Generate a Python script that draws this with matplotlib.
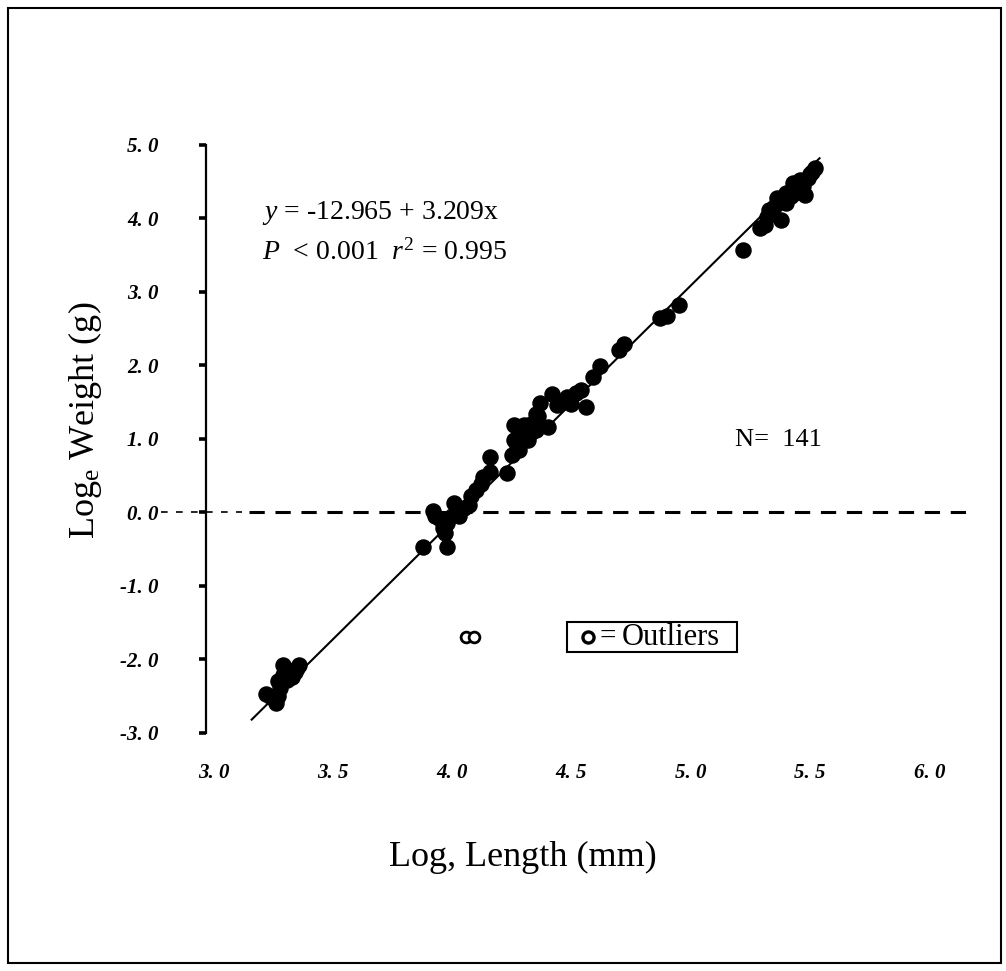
import matplotlib
matplotlib.use("Agg")
import matplotlib.pyplot as plt
from matplotlib.patches import Rectangle

plt.rcParams["mathtext.fontset"] = "custom"
plt.rcParams["mathtext.rm"] = "Liberation Serif"
plt.rcParams["mathtext.it"] = "Liberation Serif:italic"

# ln(length mm) / ln(weight g) for each fish, read in clusters along the fit
log_length = [
    3.22, 3.24, 3.26, 3.27, 3.27, 3.28, 3.29, 3.29, 3.31, 3.33, 3.34, 3.35, 3.36,
    3.88, 3.92, 3.93, 3.95, 3.96, 3.97, 3.98, 3.98, 4.00, 4.01, 4.03, 4.05,
    4.07, 4.08, 4.10, 4.12, 4.13, 4.16, 4.16, 4.23,
    4.25, 4.26, 4.26, 4.27, 4.28, 4.29, 4.30, 4.31, 4.32, 4.33, 4.35, 4.35,
    4.36, 4.37, 4.40, 4.42, 4.44, 4.46, 4.48, 4.50, 4.52, 4.54, 4.56, 4.59, 4.62,
    4.70, 4.72, 4.87, 4.90, 4.95,
    5.22,
    5.29, 5.31, 5.32, 5.33, 5.35, 5.36, 5.38, 5.39, 5.40, 5.40, 5.42, 5.43,
    5.44, 5.45, 5.46, 5.47, 5.48, 5.49, 5.50, 5.51, 5.52,
]
log_weight = [
    -2.47, -2.52, -2.60, -2.50, -2.30, -2.40, -2.22, -2.08, -2.28, -2.25, -2.18, -2.12, -2.08,
    -0.47, 0.02, -0.05, -0.10, -0.22, -0.28, -0.15, -0.47, -0.05, 0.12, -0.06, 0.05,
    0.10, 0.22, 0.30, 0.38, 0.48, 0.75, 0.55, 0.53,
    0.78, 0.98, 1.18, 0.90, 0.84, 1.05, 1.18, 1.10, 0.98, 1.20, 1.12, 1.34,
    1.30, 1.48, 1.16, 1.61, 1.45, 1.50, 1.57, 1.47, 1.62, 1.66, 1.43, 1.84, 1.98,
    2.20, 2.28, 2.64, 2.66, 2.82,
    3.56,
    3.86, 3.90, 4.02, 4.11, 4.15, 4.27, 3.97, 4.22, 4.20, 4.34, 4.30, 4.47,
    4.40, 4.36, 4.52, 4.43, 4.31, 4.55, 4.60, 4.63, 4.68,
]

# two fish dropped from the regression
outlier_length = [4.06, 4.09]
outlier_weight = [-1.70, -1.70]

# fitted line y = -12.965 + 3.209x
intercept = -12.965
slope = 3.209
fit_range = [3.16, 5.54]

x_ticks = [3.0, 3.5, 4.0, 4.5, 5.0, 5.5, 6.0]
x_tick_labels = ["3. 0", "3. 5", "4. 0", "4. 5", "5. 0", "5. 5", "6. 0"]
y_ticks = [5.0, 4.0, 3.0, 2.0, 1.0, 0.0, -1.0, -2.0, -3.0]
y_tick_labels = ["5. 0", "4. 0", "3. 0", "2. 0", "1. 0", "0. 0", "-1. 0", "-2. 0", "-3. 0"]

W, H = 1006, 971
fig = plt.figure(figsize=(W / 100, H / 100), dpi=100)
fig.patch.set_facecolor("white")

# outer frame
fig.add_artist(Rectangle((8 / W, 1 - 963 / H), 993 / W, 955 / H,
                         transform=fig.transFigure, fill=False,
                         edgecolor="black", linewidth=1.5))

ax = fig.add_axes([206 / W, 1 - 732.5 / H, 771 / W, 588 / H])
ax.set_xlim(2.9686, 6.1999)
ax.set_ylim(-3.0, 5.0)
for side in ("top", "right", "bottom"):
    ax.spines[side].set_visible(False)
ax.spines["left"].set_linewidth(1.6)

tick_font = dict(family="Liberation Serif", weight="bold", style="italic", size=15)
ax.set_yticks(y_ticks)
ax.set_yticklabels(y_tick_labels, fontdict=tick_font)
ax.tick_params(axis="y", direction="out", length=5, width=2.6, pad=29)
ax.set_xticks(x_ticks)
ax.set_xticklabels(x_tick_labels, fontdict=tick_font)
ax.tick_params(axis="x", length=0, pad=22)

# zero reference line
ax.plot([2.78, 3.12], [0, 0], color="black", linewidth=1.2,
        linestyle=(0, (4, 5)), clip_on=False)
ax.plot([3.15, 6.19], [0, 0], color="black", linewidth=2.2,
        linestyle=(0, (5, 3.5)), clip_on=False)

# regression line
ax.plot(fit_range, [intercept + slope * v for v in fit_range],
        color="black", linewidth=1.5, zorder=2)

ax.scatter(log_length, log_weight, s=118, color="black", zorder=3, clip_on=False)
ax.scatter(outlier_length, outlier_weight, s=60, facecolors="white",
           edgecolors="black", linewidths=2, zorder=3)

text_font = dict(family="Liberation Serif", size=20)
fig.text(262 / W, 1 - 213 / H, "$y$ = -12.965 + 3.209x", va="center", ha="left", **text_font)
fig.text(262 / W, 1 - 252 / H, "$P$  < 0.001  $r^2$ = 0.995", va="center", ha="left", **text_font)
fig.text(735 / W, 1 - 440 / H, "N=  141", va="center", ha="left",
         family="Liberation Serif", size=19)

# outliers key
key_y = 1 - 637 / H
fig.add_artist(Rectangle((567 / W, 1 - 652 / H), 170 / W, 30 / H,
                         transform=fig.transFigure, fill=False,
                         edgecolor="black", linewidth=1.5))
fig.add_artist(plt.Line2D([588 / W], [key_y], marker="o", markersize=8,
                          markerfacecolor="white", markeredgecolor="black",
                          markeredgewidth=2.4, transform=fig.transFigure))
fig.text(608 / W, key_y, "=", va="center", ha="center",
         family="Liberation Serif", size=21)
fig.text(622 / W, key_y, "Outliers", va="center", ha="left",
         family="Liberation Serif", size=22)

fig.text(523 / W, 1 - 857 / H, "Log, Length (mm)", va="center", ha="center",
         family="Liberation Serif", size=26)
fig.text(85 / W, 1 - 420 / H, r"Log$_\mathregular{e}$ Weight (g)", va="center",
         ha="center", rotation=90, family="Liberation Serif", size=26)

fig.savefig("out.png", dpi=100)
